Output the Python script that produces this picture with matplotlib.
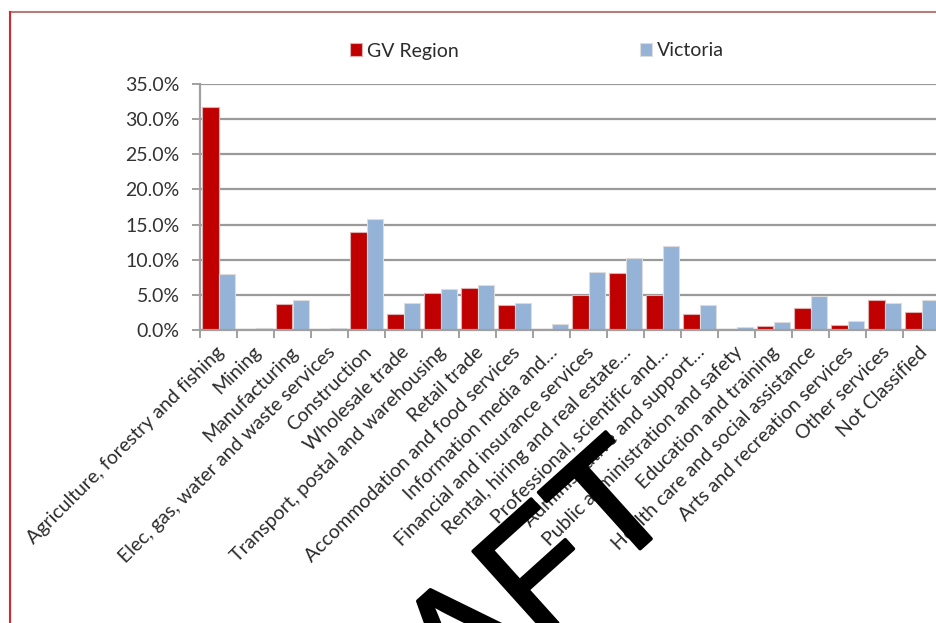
"""
Industry share of employment: GV Region compared with Victoria.
"""

import matplotlib.pyplot as plt
from matplotlib import patheffects
from matplotlib.lines import Line2D
from matplotlib.transforms import ScaledTranslation, blended_transform_factory

FIG_W, FIG_H = 936, 623
DPI = 100

CATEGORIES = [
    "Agriculture, forestry and fishing",
    "Mining",
    "Manufacturing",
    "Elec, gas, water and waste services",
    "Construction",
    "Wholesale trade",
    "Transport, postal and warehousing",
    "Retail trade",
    "Accommodation and food services",
    "Information media and…",
    "Financial and insurance services",
    "Rental, hiring and real estate…",
    "Professional, scientific and…",
    "Administrative and support…",
    "Public administration and safety",
    "Education and training",
    "Health care and social assistance",
    "Arts and recreation services",
    "Other services",
    "Not Classified",
]
GV_REGION = [31.7, 0.15, 3.7, 0.2, 14.0, 2.3, 5.3, 6.0, 3.55, 0.15,
             5.0, 8.1, 5.0, 2.3, 0.15, 0.6, 3.2, 0.65, 4.2, 2.6]
VICTORIA = [7.9, 0.25, 4.3, 0.3, 15.8, 3.9, 5.9, 6.45, 3.9, 0.85,
            8.3, 10.3, 12.0, 3.55, 0.4, 1.2, 4.9, 1.25, 3.9, 4.2]
Y_TICKS = [0, 5, 10, 15, 20, 25, 30, 35]
SERIES_NAMES = ["GV Region", "Victoria"]

GV_COLOR = "#C00000"
VIC_COLOR = "#95B3D7"
GRID_COLOR = "#9a9a9a"
TEXT_COLOR = "#2b2b2b"
FONT = ["Lato", "DejaVu Sans"]

BAR_WIDTH = 0.44


def px(x, y):
    """Pixel position (from top-left) to figure fraction."""
    return x / FIG_W, 1 - y / FIG_H


def draw_chart():
    plt.rcParams["font.family"] = FONT

    fig = plt.figure(figsize=(FIG_W / DPI, FIG_H / DPI), dpi=DPI)
    left, bottom = px(200, 330)
    ax = fig.add_axes([left, bottom, 740 / FIG_W, 246 / FIG_H])

    centers = [i + 0.5 for i in range(len(CATEGORIES))]
    gv_bars = ax.bar([c - BAR_WIDTH / 2 for c in centers], GV_REGION, BAR_WIDTH,
                     color=GV_COLOR, edgecolor="#e0b0b0", linewidth=0.8,
                     label=SERIES_NAMES[0], zorder=2)
    vic_bars = ax.bar([c + BAR_WIDTH / 2 for c in centers], VICTORIA, BAR_WIDTH,
                      color=VIC_COLOR, edgecolor="#dcdcdc", linewidth=0.8,
                      label=SERIES_NAMES[1], zorder=2)

    ax.set_xlim(0, len(CATEGORIES))
    ax.set_ylim(Y_TICKS[0], Y_TICKS[-1])
    ax.set_yticks(Y_TICKS)
    ax.set_yticklabels([f"{t:.1f}%" for t in Y_TICKS], fontsize=14, color="#333333")
    ax.set_xticks(range(len(CATEGORIES) + 1))
    ax.set_xticklabels([])

    ax.yaxis.grid(True, color=GRID_COLOR, linewidth=1.6, zorder=0)
    ax.set_axisbelow(True)
    for side in ("top", "right"):
        ax.spines[side].set_visible(False)
    for side in ("left", "bottom"):
        ax.spines[side].set_color("#a0a0a0")
        ax.spines[side].set_linewidth(1.6)
    ax.tick_params(axis="both", direction="out", length=5.8, width=1.4,
                   color="#a0a0a0")
    ax.tick_params(axis="y", pad=9)

    # rotated category names, right end hanging just under each group
    label_trans = blended_transform_factory(ax.transData, ax.transAxes) + \
        ScaledTranslation(2 / 72, -14 / 72, fig.dpi_scale_trans)
    for c, name in zip(centers, CATEGORIES):
        ax.text(c, 0, name, transform=label_trans, rotation=45,
                rotation_mode="anchor", ha="right", va="center",
                fontsize=14, color=TEXT_COLOR, clip_on=False)

    fig.legend([gv_bars, vic_bars], SERIES_NAMES, loc="center left",
               bbox_to_anchor=px(350, 51), ncol=2, frameon=False,
               fontsize=14, handlelength=0.6, handleheight=0.6,
               handletextpad=0.25, columnspacing=9.35, borderpad=0,
               borderaxespad=0, labelcolor=TEXT_COLOR)

    # chart frame edges
    x0, y0 = px(9.5, 12)
    fig.add_artist(Line2D([x0, 1], [y0, y0], transform=fig.transFigure,
                          color="#b57c79", linewidth=1.5))
    fig.add_artist(Line2D([x0, x0], [0, y0], transform=fig.transFigure,
                          color="#d8262b", linewidth=1.5))

    fig.text(*px(682, 511), "DRAFT", family=["Liberation Sans", "DejaVu Sans"],
             fontsize=115, rotation=42, rotation_mode="anchor",
             ha="right", va="baseline", color="black", zorder=10,
             path_effects=[patheffects.withStroke(linewidth=2.5, foreground="black")])

    return fig


def main():
    fig = draw_chart()
    fig.savefig("out.png", dpi=DPI)
    plt.close(fig)


if __name__ == "__main__":
    main()
